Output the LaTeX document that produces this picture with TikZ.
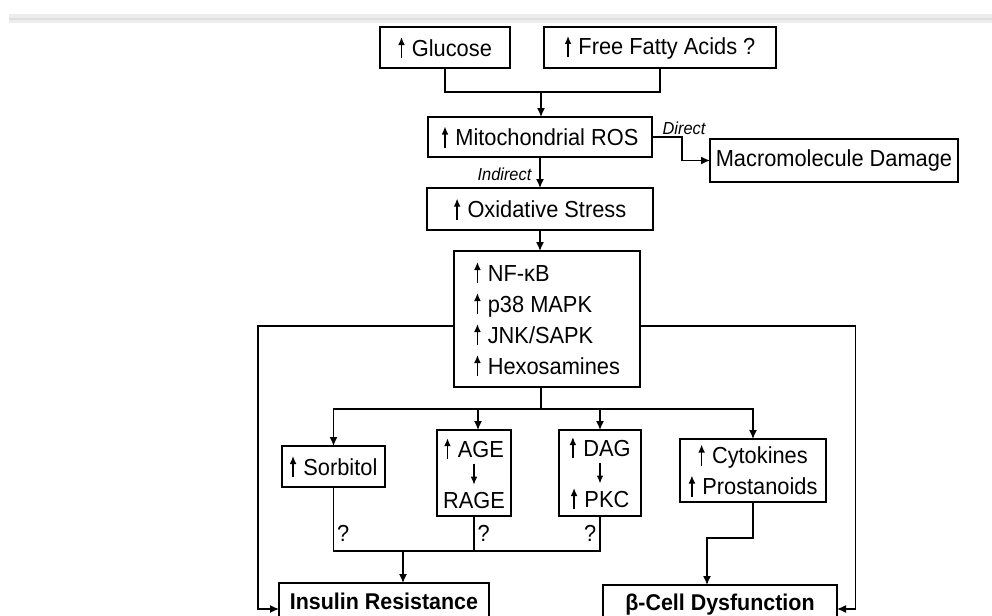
\documentclass[tikz,border=0pt]{standalone}
\usepackage{fontspec}
\setmainfont{Liberation Sans}[FakeStretch=0.94]
\usetikzlibrary{positioning,arrows.meta}
\tikzset{basic/.style={draw,line width=1pt,inner sep=2pt,outer sep=0pt,font=\fontsize{11.6pt}{15.5pt}\selectfont}}
\tikzset{box/.style={basic,minimum height=20.5pt}}
\tikzset{stack/.style={basic,align=center,minimum height=43pt}}
\tikzset{output/.style={basic,font=\bfseries\fontsize{11.4pt}{13pt}\selectfont,text height=8pt,text depth=2pt}}
\tikzset{note/.style={inner sep=1pt,font=\fontsize{8.7pt}{10pt}\selectfont\itshape}}
\tikzset{qmark/.style={inner sep=1.5pt,font=\fontsize{11.6pt}{13pt}\selectfont}}
\tikzset{link/.style={draw,line width=0.7pt}}
\newcommand{\upar}{\tikz[baseline=0pt]\draw[line width=0.7pt,-{Latex[length=4pt,width=3.4pt]}] (0,-1pt) -- (0,9.5pt);\hspace{3.5pt}}
\newcommand{\dnar}{\tikz[baseline=0pt]\draw[line width=0.7pt,-{Latex[length=4pt,width=3.4pt]}] (0,9.5pt) -- (0,-1pt);}
\begin{document}
\begin{tikzpicture}[x=0.5pt,y=-0.5pt,>={Latex[length=4.5pt,width=4pt]}]
    \useasboundingbox (0,0) rectangle (992,616);
    \clip (0,0) rectangle (992,616);
    \fill[black!7] (9,14) rectangle (992,23);
    \draw[black!13,line width=1pt] (9,19) -- (992,19);
        \node[box,minimum width=65pt] (glucose) at (445,47.5) {\upar Glucose};
        \node[box,minimum width=116pt,right=17pt of glucose] (ffa) {\upar Free Fatty Acids ?};
        \node[box,minimum width=112pt,minimum height=20pt] (mito) at (540,137) {\upar Mitochondrial ROS};
        \coordinate (join) at (541,92);
            \path[link] (glucose.south) |- (join) -| (ffa.south);
            \path[link,->] (join) -- (join |- mito.north);
        \node[box,minimum width=124pt,minimum height=21.5pt,right=29pt of mito,yshift=-11.75pt] (macro) {Macromolecule Damage};
            \path[link,->] (mito.east) -- ++(15pt,0) node[note,above,xshift=1pt] (direct) {Direct} |- (macro.west);
        \node[box,minimum width=113pt,minimum height=21pt,below=15.5pt of mito] (oxid) {\upar Oxidative Stress};
            \path[link,->] (mito) -- node[note,left=3pt,yshift=-1pt] (indirect) {Indirect} (oxid);
        \node[basic,align=left,minimum width=93pt,minimum height=68pt,below=10.5pt of oxid,xshift=3.5pt] (nf) {\upar NF-κB\\\upar p38 MAPK\\\upar JNK/SAPK\\\upar Hexosamines};
            \path[link,->] (oxid) -- (oxid.south |- nf.north);
        % second level
        \node[stack,minimum width=37pt] (age) at (474,473) {\upar AGE\\[-2.75pt]\dnar\\[-2.75pt]RAGE};
        \node[stack,minimum width=41pt,right=24pt of age] (dag) {\upar DAG\\[-2.75pt]\dnar\\[-2.75pt]\upar PKC};
        \node[box,minimum width=51.5pt,left=26pt of age,yshift=3.25pt] (sorb) {\upar Sorbitol};
        \node[basic,align=center,minimum width=73pt,minimum height=31.5pt,right=19.5pt of dag,yshift=1.25pt] (cyto) {\upar Cytokines\\\upar Prostanoids};
        \coordinate (split) at (541,409);
            \path[link] (nf.south -| split) -- (split);
            \path[link,->] (split) -| (sorb);
            \path[link,->] (split) -| ([xshift=2pt]age.north);
            \path[link,->] (split) -| (dag.north);
            \path[link,->] (split) -| (cyto);
        % outcomes
        \node[output,minimum width=105pt,minimum height=20pt] (ir) at (384,603) {Insulin Resistance};
        \node[output,minimum width=117pt,minimum height=19pt,right=57pt of ir,yshift=-0.5pt] (bcell) {β-Cell Dysfunction};
        \coordinate (merge) at (403,551);
            \path[link] (sorb.south) -- node[qmark,right,pos=0.72] (q1) {?} (sorb.south |- merge) -- (dag.south |- merge) -- node[qmark,left,pos=0.51] (q3) {?} (dag.south);
            \path[link] (age.south) -- node[qmark,right,pos=0.49] (q2) {?} (age.south |- merge);
            \path[link,->] (merge) -- (merge |- ir.north);
            \path[link,->] (cyto.south) -- ++(0,-18pt) -| ([xshift=-6.5pt]bcell.north);
        \coordinate (lturn) at (258,609);
        \coordinate (rturn) at (855.5,609);
            \path[link,->] ([yshift=-3.5pt]nf.west) -| (lturn) -- (lturn -| ir.west);
            \path[link,->] ([yshift=-3.5pt]nf.east) -| (rturn) -- (rturn -| bcell.east);
\end{tikzpicture}
\end{document}
